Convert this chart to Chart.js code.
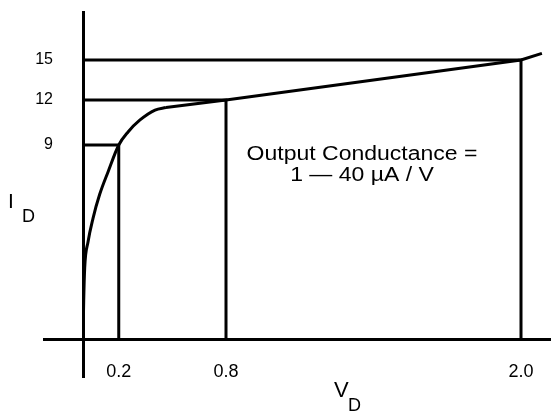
<!DOCTYPE html>
<html><head><meta charset="utf-8">
<script src="https://cdn.jsdelivr.net/npm/chart.js@4/dist/chart.umd.min.js"></script>
<style>html,body{margin:0;padding:0;background:#fff;}#wrap{width:551px;height:412px;position:relative;}</style>
</head><body><div id="wrap"><canvas id="c"></canvas></div>
<script>
// ---- data ----
const curveV = [0, 0.004, 0.0095, 0.028, 0.056, 0.093, 0.14, 0.2, 0.252, 0.319, 0.403, 0.464];
const curveI = [0, 1.8, 3.3, 4.5, 5.6, 6.7, 7.75, 9, 9.87, 10.67, 11.33, 11.5];
const satV = [0.464, 0.8, 2.0, 2.085];
const satI = [11.5, 12, 15, 15.5];
const refV = [0.2, 0.8, 2.0];
const refI = [9, 12, 15];
const xTickValues = [0, 0.2, 0.8, 2.0];
const xTickLabels = ['', '0.2', '0.8', '2.0'];
const yTickValues = [0, 9, 12, 15];
const yTickLabels = ['', '9', '12', '15'];
const xTitle = ['V', 'D'];
const yTitle = ['I', 'D'];
const noteLines = ['Output Conductance =', '1 \u2014 40 \u00B5A / V'];

// ---- piecewise-linear scale (the drawing's axes are not to scale) ----
class PiecewiseScale extends Chart.LinearScale {
  _seg(arr, key, v) {
    let i = 1;
    while (i < arr.length - 1 && v > arr[i][key]) i++;
    return [arr[i - 1], arr[i]];
  }
  getPixelForValue(value) {
    if (value === null || value === undefined || isNaN(value)) return NaN;
    const b = this.options.breaks;
    const [p0, p1] = this._seg(b, 0, value);
    const dec = p0[1] + (value - p0[0]) * (p1[1] - p0[1]) / (p1[0] - p0[0]);
    return this.getPixelForDecimal(dec);
  }
  getValueForPixel(pixel) {
    const d = this.getDecimalForPixel(pixel);
    const b = this.options.breaks;
    const [p0, p1] = this._seg(b, 1, d);
    return p0[0] + (d - p0[1]) * (p1[0] - p0[0]) / (p1[1] - p0[1]);
  }
}
PiecewiseScale.id = 'piecewise';
PiecewiseScale.defaults = Chart.LinearScale.defaults;
Chart.register(PiecewiseScale);

const pts = (xs, ys) => xs.map((x, i) => ({x, y: ys[i]}));
const LW = 3;
const lineStyle = {borderColor: '#000', borderWidth: LW, pointRadius: 0, fill: false, tension: 0,
  borderCapStyle: 'butt', borderJoinStyle: 'miter'};

const datasets = [
  Object.assign({}, lineStyle, {data: pts(curveV, curveI), cubicInterpolationMode: 'monotone', borderJoinStyle: 'round'}),
  Object.assign({}, lineStyle, {data: pts(satV, satI)}),
];
refV.forEach((v, i) => {
  datasets.push(Object.assign({}, lineStyle, {data: [{x: 0, y: refI[i]}, {x: v, y: refI[i]}, {x: v, y: 0}]}));
});

const FONT = '"Liberation Sans", Arial, Helvetica, sans-serif';

const textPlugin = {
  id: 'texts',
  afterDraw(chart) {
    const ctx = chart.ctx;
    ctx.save();
    ctx.fillStyle = '#000';
    ctx.textBaseline = 'alphabetic';
    ctx.textAlign = 'left';
    // y title
    ctx.font = '21px ' + FONT;
    ctx.fillText(yTitle[0], 8, 208);
    ctx.font = '18px ' + FONT;
    ctx.fillText(yTitle[1], 22, 222);
    // x title
    ctx.font = '22px ' + FONT;
    ctx.fillText(xTitle[0], 334, 397);
    ctx.font = '18px ' + FONT;
    ctx.fillText(xTitle[1], 348, 411);
    // note
    ctx.textAlign = 'center';
    ctx.font = '20px ' + FONT;
    ctx.translate(362, 0);
    ctx.scale(1.15, 1);
    ctx.fillText(noteLines[0], 0, 160);
    ctx.fillText(noteLines[1], 0, 181);
    ctx.restore();
  }
};

new Chart(document.getElementById('c'), {
  type: 'line',
  data: {datasets},
  plugins: [textPlugin],
  options: {
    responsive: true,
    maintainAspectRatio: false,
    animation: false,
    events: [],
    layout: {padding: {top: 12, right: 0, left: 0, bottom: 0}},
    plugins: {legend: {display: false}, tooltip: {enabled: false}, title: {display: false}},
    scales: {
      x: {
        type: 'piecewise',
        min: 0, max: 2.12,
        breaks: [[0, 0], [0.8, 143 / 468], [2.0, 438 / 468]],
        afterBuildTicks: s => { s.ticks = xTickValues.map(v => ({value: v})); },
        afterFit: s => { s.height = 73; },
        ticks: {
          autoSkip: false, maxRotation: 0, padding: -17, color: '#000',
          font: {family: FONT, size: 18},
          callback: (v, i) => xTickLabels[i]
        },
        grid: {
          display: true, drawOnChartArea: false, drawTicks: true, tickLength: 39,
          lineWidth: LW,
          color: c => (c.tick && c.tick.value === 0) ? '#000' : 'rgba(0,0,0,0)'
        },
        border: {display: true, color: '#000', width: LW}
      },
      y: {
        type: 'piecewise',
        min: 0, max: 18.6,
        breaks: [[0, 0], [9, 194 / 327], [12, 239 / 327], [15, 279 / 327]],
        afterBuildTicks: s => { s.ticks = yTickValues.map(v => ({value: v})); },
        afterFit: s => { s.width = 83; },
        ticks: {
          autoSkip: false, padding: -10, color: '#000',
          font: {family: FONT, size: 16},
          callback: (v, i) => yTickLabels[i]
        },
        grid: {
          display: true, drawOnChartArea: false, drawTicks: true, tickLength: 40,
          lineWidth: LW,
          color: c => (c.tick && c.tick.value === 0) ? '#000' : 'rgba(0,0,0,0)'
        },
        border: {display: true, color: '#000', width: LW}
      }
    }
  }
});
</script>
</body></html>
